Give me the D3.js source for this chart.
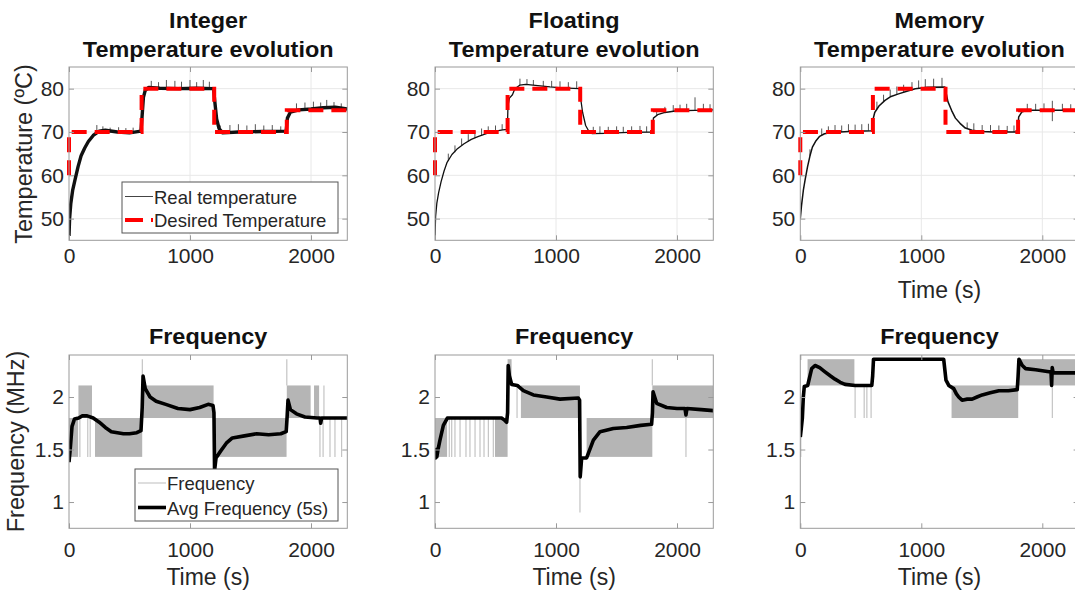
<!DOCTYPE html>
<html>
<head>
<meta charset="utf-8">
<script src="https://cdn.jsdelivr.net/npm/d3@7"></script>
<style>
  body { margin: 0; background: #fff; }
  svg { display: block; font-family: "Liberation Sans", Arial, Helvetica, sans-serif; }
</style>
</head>
<body>
<svg id="chart" width="1075" height="599"></svg>
<script>
// ---- data ----
const panelNames = ["Integer", "Floating", "Memory"];
const timeTicks = [0, 1000, 2000];
const tempTicks = [50, 60, 70, 80];
const freqTicks = [1, 1.5, 2];
const timeDomain = [0, 2300];
const tempDomain = [45, 85];
const freqDomain = [0.75, 2.4];

// desired temperature (same set-point profile in all three runs)
const desiredTemp = [[0, 60], [0, 70], [600, 70], [600, 80], [1200, 80], [1200, 70], [1800, 70], [1800, 75], [2300, 75]];

// real temperature [time, degC]
const intTemp = [[0, 46], [5, 50], [15, 53.5], [30, 56.5], [50, 59], [75, 62], [100, 64.5], [130, 66.3], [160, 67.8], [200, 69.2], [250, 70.2], [300, 70.4], [400, 70], [500, 69.8], [595, 70.2], [605, 74], [615, 78], [630, 79.6], [660, 80.3], [750, 80.1], [900, 80], [1050, 80.1], [1195, 80], [1205, 77], [1220, 73], [1240, 70.8], [1270, 69.8], [1400, 70], [1600, 70.1], [1795, 70.2], [1805, 73.2], [1830, 74.6], [1900, 75.1], [2000, 75.3], [2100, 75.6], [2200, 75.7], [2300, 75.3]];
const floatTemp = [[0, 46], [5, 50.5], [15, 53.5], [30, 56], [50, 58.5], [75, 61], [100, 63], [140, 64.8], [180, 66], [240, 67.3], [300, 68.3], [360, 69], [430, 69.7], [500, 70.2], [560, 70.5], [598, 70.6], [603, 76], [615, 77.8], [640, 78.6], [660, 80], [700, 80.8], [750, 81], [850, 80.7], [950, 80.4], [1050, 80.2], [1195, 80], [1205, 77.5], [1220, 74.5], [1245, 71.5], [1275, 70], [1300, 69.6], [1400, 69.7], [1600, 69.9], [1795, 70], [1805, 73.2], [1840, 74], [1900, 74.5], [2000, 74.9], [2150, 75], [2300, 75.1]];
const memTemp = [[0, 50], [10, 53], [25, 56.5], [40, 59], [60, 62], [80, 64.5], [100, 66.5], [130, 68], [160, 69], [200, 69.6], [260, 69.9], [400, 70.1], [595, 70.3], [602, 73], [615, 74.5], [650, 76], [700, 77.3], [750, 78.2], [812, 78.8], [880, 79.4], [950, 80], [1050, 80.3], [1195, 80.4], [1205, 79], [1220, 77], [1250, 75], [1282, 73.2], [1320, 72], [1364, 70.9], [1420, 70.4], [1500, 70.1], [1600, 70], [1795, 70], [1805, 73.5], [1830, 74.6], [1870, 75], [2000, 75], [2300, 75]];

// short sensor spikes on the real temperature [time, low, high]
const intSpikes = [[230, 69.8, 71.6], [280, 70, 71.3], [340, 69.8, 71], [410, 69.8, 71.1], [470, 69.6, 70.9], [530, 69.7, 71], [680, 80, 81.8], [740, 80, 81.5], [805, 79.9, 82], [875, 80, 81.8], [930, 80, 81.6], [1000, 80, 82], [1055, 80, 81.5], [1110, 80, 82], [1160, 79.9, 81.6], [1250, 69.8, 71.5], [1330, 69.8, 71.6], [1400, 69.9, 71.8], [1470, 70, 71.5], [1540, 70, 71.8], [1610, 70, 71.5], [1680, 70, 71.6], [1750, 70, 71.3], [1880, 75, 76.6], [1950, 75.2, 76.8], [2020, 75.3, 77], [2080, 75.5, 76.8], [2130, 75.6, 77.4], [2190, 75.6, 76.9], [2250, 75.5, 76.6]];
const floatSpikes = [[110, 63.3, 65], [165, 65.3, 66.9], [220, 66.9, 68.5], [275, 67.8, 69.5], [330, 68.6, 70.3], [385, 69.2, 70.8], [440, 69.8, 71.3], [500, 70.2, 71.5], [555, 70.5, 71.8], [702, 80.8, 82.3], [760, 81, 82.2], [813, 80.8, 82], [895, 80.6, 81.8], [964, 80.4, 81.8], [1033, 80.3, 81.7], [1102, 80.2, 81.5], [1171, 80.1, 81.7], [1308, 69.6, 71.2], [1363, 69.7, 71.3], [1432, 69.7, 71.2], [1501, 69.8, 71.3], [1556, 69.8, 71.2], [1625, 69.9, 71.3], [1694, 69.9, 71.4], [1749, 70, 71.3], [1832, 73.8, 75.2], [1900, 74.5, 75.8], [1969, 74.8, 76.2], [2025, 74.9, 76.3], [2080, 75, 76.5], [2149, 75, 78], [2218, 75, 76.5], [2273, 75.1, 76.4]];
const memSpikes = [[80, 64.5, 66], [177, 69.2, 70.8], [232, 69.8, 71.3], [287, 69.9, 71.6], [342, 70, 71.5], [398, 70.1, 71.8], [453, 70.1, 71.7], [508, 70.2, 71.8], [563, 70.3, 71.9], [633, 75.2, 77], [688, 77, 78.6], [743, 78.1, 79.8], [798, 78.7, 80.5], [854, 79.1, 80.9], [923, 79.7, 81.5], [978, 80.1, 81.9], [1033, 80.3, 82.2], [1102, 80.3, 82.3], [1171, 80.4, 82.5], [1379, 70.7, 72.2], [1434, 70.3, 72], [1503, 70.1, 71.6], [1572, 70, 71.6], [1641, 70, 71.5], [1710, 70, 71.4], [1766, 70, 71.5], [1876, 75, 76.5], [1945, 75, 76.5], [2014, 75, 76.6], [2083, 72.5, 77.2], [2166, 75, 76.5], [2235, 75, 76.4]];

// 5 s average frequency [time, GHz]
const intFreq = [[0, 1.38], [10, 1.5], [25, 1.72], [45, 1.79], [80, 1.8], [110, 1.82], [150, 1.82], [200, 1.8], [250, 1.76], [300, 1.71], [350, 1.67], [400, 1.66], [450, 1.65], [500, 1.65], [560, 1.66], [595, 1.68], [605, 1.9], [612, 2.2], [630, 2.08], [670, 2.0], [720, 1.96], [800, 1.93], [900, 1.89], [1000, 1.88], [1080, 1.9], [1150, 1.93], [1190, 1.92], [1198, 1.85], [1203, 1.3], [1215, 1.42], [1250, 1.48], [1300, 1.56], [1350, 1.61], [1450, 1.63], [1550, 1.65], [1650, 1.64], [1750, 1.65], [1795, 1.67], [1802, 1.8], [1810, 1.97], [1830, 1.88], [1880, 1.84], [1950, 1.81], [2050, 1.8], [2075, 1.8], [2080, 1.75], [2088, 1.8], [2300, 1.8]];
const floatFreq = [[0, 1.48], [5, 1.42], [10, 1.5], [15, 1.43], [25, 1.5], [41, 1.59], [69, 1.73], [102, 1.8], [200, 1.8], [400, 1.8], [550, 1.8], [575, 1.78], [592, 1.76], [600, 1.85], [605, 2.3], [615, 2.2], [634, 2.12], [680, 2.11], [730, 2.06], [813, 2.02], [923, 2.0], [1033, 1.98], [1185, 1.99], [1195, 1.97], [1200, 1.24], [1212, 1.42], [1253, 1.42], [1309, 1.59], [1364, 1.67], [1474, 1.7], [1584, 1.71], [1700, 1.73], [1790, 1.74], [1797, 1.85], [1802, 2.05], [1832, 1.94], [1915, 1.9], [2000, 1.89], [2066, 1.89], [2074, 1.83], [2082, 1.89], [2200, 1.88], [2300, 1.87]];
const memFreq = [[0, 1.62], [8, 1.7], [17, 1.8], [25, 2.0], [33, 2.1], [61, 2.11], [94, 2.27], [122, 2.3], [160, 2.28], [204, 2.24], [250, 2.2], [287, 2.17], [330, 2.14], [370, 2.12], [453, 2.11], [591, 2.11], [598, 2.2], [605, 2.36], [1185, 2.36], [1204, 2.16], [1227, 2.11], [1268, 2.08], [1290, 2.03], [1309, 2.0], [1337, 1.97], [1380, 1.98], [1420, 1.98], [1460, 2.0], [1503, 2.02], [1570, 2.04], [1641, 2.06], [1720, 2.06], [1793, 2.07], [1800, 2.2], [1807, 2.36], [1835, 2.3], [1862, 2.27], [1945, 2.26], [2055, 2.24], [2072, 2.24], [2077, 2.11], [2082, 2.28], [2090, 2.23], [2180, 2.23], [2300, 2.23]];

// raw frequency toggling between two levels -> shaded band [t0, t1, low, high]
const intBands = [[0, 75, 1.43, 1.8], [78, 190, 1.8, 2.11], [215, 605, 1.43, 1.8], [605, 1195, 1.8, 2.11], [1200, 1798, 1.43, 1.8], [1800, 1997, 1.8, 2.11], [2025, 2067, 1.8, 2.11]];
const floatBands = [[0, 100, 1.43, 1.8], [496, 600, 1.43, 1.8], [600, 633, 2.11, 2.36], [710, 1198, 1.8, 2.11], [1253, 1796, 1.43, 1.8], [1796, 2300, 1.8, 2.11]];
const memBands = [[60, 447, 2.11, 2.36], [1250, 1801, 1.8, 2.11], [1805, 2300, 2.11, 2.36]];

// single raw frequency switches [time, low, high]
const intSwitches = [[90, 1.43, 1.8], [155, 1.43, 1.8], [175, 1.43, 1.8], [606, 2.11, 2.36], [1800, 2.11, 2.36], [2074, 1.43, 1.8], [2100, 1.43, 1.8], [2107, 1.8, 2.11], [2157, 1.43, 1.8], [2198, 1.43, 1.8], [2253, 1.43, 1.8]];
const floatSwitches = [[118, 1.43, 1.8], [138, 1.43, 1.8], [165, 1.43, 1.8], [207, 1.43, 1.8], [256, 1.43, 1.8], [289, 1.43, 1.8], [331, 1.43, 1.8], [372, 1.43, 1.8], [405, 1.43, 1.8], [441, 1.43, 1.8], [482, 1.43, 1.8], [678, 1.8, 2.11], [1198, 0.9, 1.43], [1796, 2.11, 2.36], [2074, 1.43, 1.8]];
const memSwitches = [[4, 1.43, 1.62], [453, 1.8, 2.11], [528, 1.8, 2.11], [550, 1.8, 2.11], [585, 1.8, 2.11], [2083, 1.8, 2.11]];

// ---- layout ----
const svg = d3.select('#chart');
const colLeft = [69, 435, 800.3];
const plotW = 278.3;
const topRow = { top: 67, bottom: 240.3 };
const botRow = { top: 355, bottom: 528.3 };
const axisColor = "#9a9a9a";
const textColor = "#262626";
const titleStretch = 1.09;

const panels = panelNames.map((name, i) => ({
    name: name,
    temp: [intTemp, floatTemp, memTemp][i],
    spikes: [intSpikes, floatSpikes, memSpikes][i],
    freq: [intFreq, floatFreq, memFreq][i],
    bands: [intBands, floatBands, memBands][i],
    switches: [intSwitches, floatSwitches, memSwitches][i],
    lineWidth: [3.4, 1.3, 1.5][i]
}));

const defs = svg.append("defs");

function frame(g, x, y, yTicks, row) {
    const [x0, x1] = x.range();
    const [y1, y0] = y.range();

    const bottom = g.append("g")
        .attr("transform", `translate(0, ${y1})`)
        .call(d3.axisBottom(x).tickValues(timeTicks).tickFormat(d3.format("d"))
            .tickSizeInner(-5).tickSizeOuter(0)
            .tickPadding(row === 0 ? 8 : 14));
    const left = g.append("g")
        .attr("transform", `translate(${x0}, 0)`)
        .call(d3.axisLeft(y).tickValues(yTicks).tickFormat(d => String(d))
            .tickSizeInner(-5).tickSizeOuter(0).tickPadding(5));
    const top = g.append("g")
        .attr("transform", `translate(0, ${y0})`)
        .call(d3.axisTop(x).tickValues(timeTicks).tickSizeInner(-5).tickSizeOuter(0).tickFormat(""));
    const right = g.append("g")
        .attr("transform", `translate(${x1}, 0)`)
        .call(d3.axisRight(y).tickValues(yTicks).tickSizeInner(-5).tickSizeOuter(0).tickFormat(""));

    [bottom, left, top, right].forEach(a => {
        a.select(".domain").remove();
        a.selectAll("line").attr("stroke", axisColor);
        a.selectAll("text")
            .attr("fill", textColor)
            .style("font-size", "21px")
            .style("font-family", "'Liberation Sans', Arial, sans-serif");
    });

    g.append("rect")
        .attr("x", x0).attr("y", y0)
        .attr("width", x1 - x0).attr("height", y1 - y0)
        .attr("fill", "none")
        .attr("stroke", axisColor)
        .attr("stroke-width", 1);
}

function clipFor(id, x, y) {
    defs.append("clipPath").attr("id", id)
        .append("rect")
        .attr("x", x.range()[0]).attr("y", y.range()[1])
        .attr("width", x.range()[1] - x.range()[0])
        .attr("height", y.range()[0] - y.range()[1]);
    return `url(#${id})`;
}

function title(x, y, label) {
    svg.append("text")
        .attr("transform", `translate(${x}, ${y}) scale(${titleStretch}, 1)`)
        .attr("text-anchor", "middle")
        .attr("font-weight", "bold").attr("font-size", 21.5)
        .attr("fill", "#111")
        .text(label);
}

panels.forEach((p, i) => {
    const cx = colLeft[i] + plotW / 2;

    // ---------- temperature ----------
    const x = d3.scaleLinear().domain(timeDomain).range([colLeft[i], colLeft[i] + plotW]);
    const yT = d3.scaleLinear().domain(tempDomain).range([topRow.bottom, topRow.top]);
    const gT = svg.append("g");

    // grid
    gT.append("g").selectAll("line").data(timeTicks.filter(d => d > 0)).join("line")
        .attr("x1", d => x(d)).attr("x2", d => x(d))
        .attr("y1", topRow.top).attr("y2", topRow.bottom)
        .attr("stroke", "#e8e8e8");
    gT.append("g").selectAll("line").data(tempTicks).join("line")
        .attr("x1", x.range()[0]).attr("x2", x.range()[1])
        .attr("y1", d => yT(d)).attr("y2", d => yT(d))
        .attr("stroke", "#e8e8e8");

    const plotT = gT.append("g").attr("clip-path", clipFor("ct" + i, x, yT));

    plotT.append("g").selectAll("line").data(p.spikes).join("line")
        .attr("x1", d => x(d[0])).attr("x2", d => x(d[0]))
        .attr("y1", d => yT(d[1])).attr("y2", d => yT(d[2]))
        .attr("stroke", "#555").attr("stroke-width", 1);

    plotT.append("path")
        .datum(p.temp)
        .attr("d", d3.line().x(d => x(d[0])).y(d => yT(d[1])))
        .attr("fill", "none")
        .attr("stroke", "#111")
        .attr("stroke-width", p.lineWidth)
        .attr("stroke-linejoin", "round");

    gT.append("path")
        .datum(desiredTemp)
        .attr("d", d3.line().x(d => x(d[0])).y(d => yT(d[1])))
        .attr("fill", "none")
        .attr("stroke", "#ff0000")
        .attr("stroke-width", 4)
        .attr("stroke-dasharray", "15,8");

    frame(svg.append("g"), x, yT, tempTicks, 0);

    title(cx, 28, p.name);
    title(cx, 57, "Temperature evolution");

    // ---------- frequency ----------
    const yF = d3.scaleLinear().domain(freqDomain).range([botRow.bottom, botRow.top]);
    const gF = svg.append("g").attr("clip-path", clipFor("cf" + i, x, yF));

    gF.append("g").selectAll("rect").data(p.bands).join("rect")
        .attr("x", d => x(d[0]))
        .attr("width", d => x(d[1]) - x(d[0]))
        .attr("y", d => yF(d[3]))
        .attr("height", d => yF(d[2]) - yF(d[3]))
        .attr("fill", "#b5b5b5");

    gF.append("g").selectAll("line").data(p.switches).join("line")
        .attr("x1", d => x(d[0])).attr("x2", d => x(d[0]))
        .attr("y1", d => yF(d[1])).attr("y2", d => yF(d[2]))
        .attr("stroke", "#c4c4c4").attr("stroke-width", 1.2);

    gF.append("path")
        .datum(p.freq)
        .attr("d", d3.line().x(d => x(d[0])).y(d => yF(d[1])))
        .attr("fill", "none")
        .attr("stroke", "#000")
        .attr("stroke-width", 3.6)
        .attr("stroke-linejoin", "round");

    frame(svg.append("g"), x, yF, freqTicks, 1);

    title(cx, 344, "Frequency");

    svg.append("text")
        .attr("x", cx).attr("y", 585)
        .attr("text-anchor", "middle")
        .attr("font-size", 23)
        .attr("fill", textColor)
        .text("Time (s)");
});

// time label under the memory temperature plot
svg.append("text")
    .attr("x", colLeft[2] + plotW / 2).attr("y", 298)
    .attr("text-anchor", "middle")
    .attr("font-size", 23)
    .attr("fill", textColor)
    .text("Time (s)");

// y axis labels
svg.append("text")
    .attr("transform", "translate(32, 154) rotate(-90)")
    .attr("text-anchor", "middle")
    .attr("font-size", 23.5)
    .attr("fill", textColor)
    .text("Temperature (ºC)");

svg.append("text")
    .attr("transform", "translate(24, 441.5) rotate(-90)")
    .attr("text-anchor", "middle")
    .attr("font-size", 23.5)
    .attr("fill", textColor)
    .text("Frequency (MHz)");

// legends
function legend(box, items) {
    const g = svg.append("g");
    g.append("rect")
        .attr("x", box.x).attr("y", box.y)
        .attr("width", box.w).attr("height", box.h)
        .attr("fill", "#fff")
        .attr("stroke", "#555").attr("stroke-width", 1);
    items.forEach(it => {
        g.append("line")
            .attr("x1", box.x + 3).attr("x2", box.x + 31)
            .attr("y1", it.y).attr("y2", it.y)
            .attr("stroke", it.color)
            .attr("stroke-width", it.width)
            .attr("stroke-dasharray", it.dash || null);
        g.append("text")
            .attr("x", box.x + 32).attr("y", it.y + 7)
            .attr("font-size", 18.5)
            .attr("fill", textColor)
            .text(it.label);
    });
}

legend({ x: 122, y: 182, w: 216, h: 51 }, [
    { label: "Real temperature", y: 196.5, color: "#444", width: 1 },
    { label: "Desired Temperature", y: 220, color: "#ff0000", width: 4, dash: "18,8" }
]);

legend({ x: 135, y: 469, w: 203, h: 52 }, [
    { label: "Frequency", y: 483, color: "#c8c8c8", width: 1.2 },
    { label: "Avg Frequency (5s)", y: 507.5, color: "#000", width: 3.6 }
]);
</script>
</body>
</html>
